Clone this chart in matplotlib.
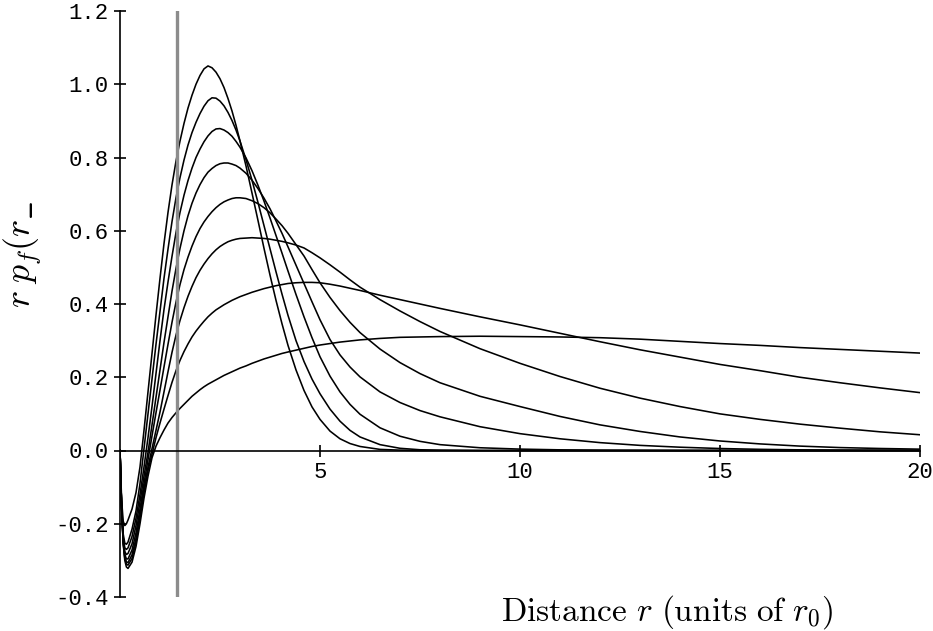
import matplotlib.pyplot as plt

# sample positions (units of r0)
r = [0, 0.04, 0.08, 0.12, 0.16, 0.2, 0.3, 0.4, 0.5, 0.6, 0.7, 0.8, 0.9, 1.0,
     1.1, 1.2, 1.3, 1.4, 1.5, 1.6, 1.7, 1.8, 1.9, 2.0,
     2.1, 2.2, 2.3, 2.4, 2.5, 2.6, 2.7, 2.8, 2.9, 3.0,
     3.15, 3.3, 3.45, 3.6, 3.75, 3.9, 4.05, 4.2,
     4.4, 4.6, 4.8, 5.0, 5.25, 5.5, 5.75, 6.0,
     6.5, 7.0, 7.5, 8.0, 9, 10, 11, 12, 13, 14, 15, 16, 17, 18, 19, 20]

c1 = [0, -0.135, -0.193, -0.205, -0.2, -0.19, -0.16, -0.115, -0.045, 0.055, 0.16, 0.265, 0.37, 0.47,
      0.565, 0.65, 0.725, 0.79, 0.845, 0.893, 0.935, 0.97, 1.0, 1.024,
      1.042, 1.05, 1.045, 1.033, 1.015, 0.991, 0.961, 0.927, 0.888, 0.845,
      0.777, 0.703, 0.628, 0.552, 0.479, 0.41, 0.346, 0.287,
      0.22, 0.164, 0.119, 0.085, 0.053, 0.032, 0.019, 0.011,
      0.003, 0.001, 0, 0, 0, 0, 0, 0, 0, 0, 0, 0, 0, 0, 0, 0]
c2 = [0, -0.15, -0.228, -0.253, -0.256, -0.25, -0.215, -0.165, -0.09, 0.005, 0.1, 0.195, 0.29, 0.38,
      0.47, 0.55, 0.625, 0.69, 0.745, 0.793, 0.834, 0.868, 0.896, 0.92,
      0.94, 0.955, 0.963, 0.962, 0.954, 0.941, 0.923, 0.901, 0.875, 0.845,
      0.794, 0.738, 0.677, 0.614, 0.551, 0.488, 0.427, 0.369,
      0.3, 0.243, 0.195, 0.155, 0.113, 0.08, 0.055, 0.037,
      0.016, 0.006, 0.002, 0.001, 0, 0, 0, 0, 0, 0, 0, 0, 0, 0, 0, 0]
c3 = [0, -0.155, -0.237, -0.266, -0.27, -0.266, -0.235, -0.185, -0.12, -0.045, 0.035, 0.12, 0.21, 0.3,
      0.385, 0.46, 0.53, 0.595, 0.65, 0.697, 0.737, 0.771, 0.8, 0.823,
      0.843, 0.859, 0.871, 0.878, 0.879, 0.875, 0.868, 0.858, 0.844, 0.828,
      0.799, 0.764, 0.724, 0.681, 0.635, 0.587, 0.539, 0.49,
      0.426, 0.365, 0.308, 0.256, 0.203, 0.16, 0.126, 0.099,
      0.062, 0.039, 0.025, 0.016, 0.0075, 0.0038, 0.0018, 0.0008, 0.0004, 0, 0, 0, 0, 0, 0, 0]
c4 = [0, -0.155, -0.242, -0.276, -0.284, -0.281, -0.255, -0.205, -0.14, -0.07, -0.005, 0.07, 0.145, 0.22,
      0.295, 0.365, 0.435, 0.497, 0.552, 0.6, 0.641, 0.675, 0.703, 0.726,
      0.745, 0.76, 0.77, 0.778, 0.783, 0.785, 0.785, 0.782, 0.778, 0.771,
      0.757, 0.738, 0.715, 0.689, 0.66, 0.627, 0.593, 0.556,
      0.506, 0.456, 0.406, 0.357, 0.303, 0.261, 0.228, 0.201,
      0.16, 0.131, 0.109, 0.092, 0.065, 0.046, 0.032, 0.0215, 0.014, 0.009, 0.0054, 0.0032, 0.0018, 0.001, 0.0005, 0.0003]
c5 = [0, -0.155, -0.246, -0.284, -0.296, -0.296, -0.272, -0.225, -0.16, -0.09, -0.025, 0.04, 0.103, 0.165,
      0.228, 0.29, 0.35, 0.405, 0.453, 0.494, 0.528, 0.558, 0.584, 0.606,
      0.624, 0.639, 0.652, 0.663, 0.672, 0.679, 0.684, 0.688, 0.69, 0.69,
      0.688, 0.682, 0.674, 0.663, 0.649, 0.632, 0.614, 0.593,
      0.562, 0.531, 0.494, 0.458, 0.418, 0.382, 0.35, 0.322,
      0.277, 0.24, 0.21, 0.185, 0.148, 0.12, 0.093, 0.07, 0.052, 0.037, 0.026, 0.018, 0.012, 0.008, 0.0055, 0.0037]
c6 = [0, -0.155, -0.25, -0.29, -0.304, -0.306, -0.285, -0.24, -0.175, -0.105, -0.045, 0.005, 0.055, 0.105,
      0.16, 0.215, 0.268, 0.315, 0.355, 0.39, 0.421, 0.448, 0.472, 0.492,
      0.509, 0.524, 0.537, 0.548, 0.557, 0.564, 0.57, 0.574, 0.577, 0.579,
      0.58, 0.581, 0.58, 0.579, 0.577, 0.574, 0.571, 0.567,
      0.561, 0.553, 0.54, 0.526, 0.507, 0.487, 0.466, 0.446,
      0.412, 0.381, 0.352, 0.325, 0.278, 0.238, 0.202, 0.17, 0.143, 0.12, 0.1, 0.085, 0.072, 0.061, 0.051, 0.043]
c7 = [0, -0.155, -0.252, -0.294, -0.31, -0.313, -0.295, -0.25, -0.185, -0.115, -0.055, -0.01, 0.035, 0.075,
      0.113, 0.15, 0.186, 0.218, 0.246, 0.27, 0.291, 0.31, 0.326, 0.34,
      0.353, 0.365, 0.375, 0.384, 0.391, 0.398, 0.404, 0.41, 0.415, 0.42,
      0.426, 0.432, 0.437, 0.442, 0.446, 0.45, 0.453, 0.456,
      0.458, 0.459, 0.459, 0.458, 0.454, 0.449, 0.443, 0.437,
      0.424, 0.412, 0.4, 0.388, 0.365, 0.343, 0.32, 0.297, 0.275, 0.255, 0.235, 0.218, 0.2, 0.185, 0.171, 0.158]
c8 = [0, -0.155, -0.255, -0.3, -0.318, -0.322, -0.305, -0.262, -0.2, -0.13, -0.07, -0.02, 0.012, 0.035,
      0.056, 0.075, 0.09, 0.103, 0.115, 0.126, 0.137, 0.148, 0.157, 0.166,
      0.174, 0.181, 0.187, 0.193, 0.199, 0.205, 0.21, 0.215, 0.22, 0.225,
      0.231, 0.238, 0.244, 0.25, 0.255, 0.26, 0.265, 0.269,
      0.274, 0.279, 0.284, 0.288, 0.292, 0.296, 0.299, 0.302,
      0.306, 0.309, 0.31, 0.311, 0.312, 0.311, 0.31, 0.308, 0.304, 0.298, 0.292, 0.287, 0.281, 0.276, 0.271, 0.266]

curves = [c1, c2, c3, c4, c5, c6, c7, c8]
r_mark = 1.42  # grey vertical marker

xticks = [5, 10, 15, 20]
yticks = [-0.4, -0.2, 0.0, 0.2, 0.4, 0.6, 0.8, 1.0, 1.2]

plt.rcParams['mathtext.fontset'] = 'cm'

fig = plt.figure(figsize=(9.33, 6.31), dpi=100)
ax = fig.add_axes([120 / 933, 34 / 631, 800 / 933, 586 / 631])

for c in curves:
    ax.plot(r, c, color='black', lw=1.15, zorder=3, solid_joinstyle='round')

ax.axvline(r_mark, color='#8c8c8c', lw=2.4, zorder=4)

ax.set_xlim(0, 20)
ax.set_ylim(-0.4, 1.2)

ax.spines['top'].set_visible(False)
ax.spines['right'].set_visible(False)
ax.spines['left'].set_position(('data', 0))
ax.spines['bottom'].set_position(('data', 0))
ax.spines['left'].set_linewidth(1.2)
ax.spines['bottom'].set_linewidth(1.2)
ax.spines['bottom'].set_zorder(5)

ax.set_xticks(xticks)
ax.set_yticks(yticks)
ax.set_yticklabels([f'{v:.1f}' for v in yticks])
ax.tick_params(direction='inout', length=8, width=1.2, pad=4,
               labelsize=16, labelfontfamily='Liberation Mono')

# axis titles in Computer Modern, like the original
ax.set_xlabel(r'$\mathrm{Distance}\ r\ (\mathrm{units\ of}\ r_0)$', fontsize=24)
ax.xaxis.set_label_coords(0.684, -0.026)
ax.xaxis.label.set_va('center')
ax.set_ylabel(r'$r\;p_f(r\_$', fontsize=26)
ax.yaxis.set_label_coords(-0.122, 0.585)
ax.yaxis.label.set_va('center')

fig.savefig('out.png', dpi=100)
